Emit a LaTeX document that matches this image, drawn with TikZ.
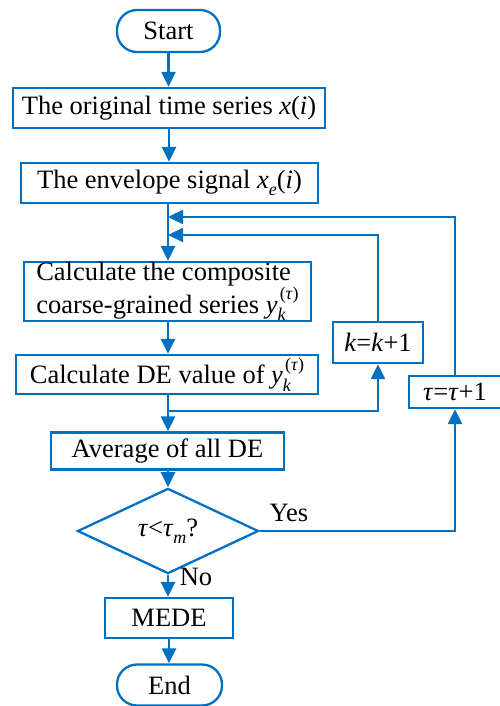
\documentclass[tikz,border=0pt]{standalone}
\usepackage{fontspec}
\setmainfont{Liberation Serif}
\usetikzlibrary{arrows.meta,shapes.geometric}
\definecolor{fb}{HTML}{0070C0}
\newcommand{\lo}[1]{\raisebox{-0.28em}{\fontsize{18}{18}\selectfont #1}}
\newcommand{\ytau}{\textit{y}\rlap{\lo{\textit{k}}}\raisebox{0.5em}{\fontsize{18}{18}\selectfont\hspace{0.12em}(\textit{τ})}}
\begin{document}
\begin{tikzpicture}[x=1pt,y=-1pt,
  box/.style={draw=fb, line width=2.3pt, inner sep=0pt, minimum height=40pt, text=black, font=\fontsize{26.5}{27}\selectfont},
  term/.style={box, rounded corners=20pt},
  lbl/.style={text=black, inner sep=0pt, font=\fontsize{26.5}{27}\selectfont},
  arr/.style={draw=fb, line width=2.3pt, -{Triangle[length=15pt,width=14pt]}},
  ln/.style={draw=fb, line width=2.3pt}]
\useasboundingbox (0,0) rectangle (500,706);
\node[term, minimum width=103pt, minimum height=42pt] (start) at (168.5,31) {Start};
\node[box, minimum width=312pt] (b1) at (169,108) {The original time series \textit{x}(\textit{i})};
\node[box, minimum width=297pt] (b2) at (169.5,183) {The envelope signal \textit{x}\lo{\textit{e}}(\textit{i})};
\node[box, minimum width=287pt, minimum height=59pt, align=left] (b3) at (167.5,291.5) {Calculate the composite\\coarse-grained series \ytau};
\node[box, minimum width=302pt, minimum height=39pt] (b4) at (167,374.5) {Calculate DE value of \ytau};
\node[box, minimum width=90pt, minimum height=41pt] (k) at (378,342.5) {\textit{k}=\textit{k}+1};
\node[box, minimum width=92pt, minimum height=32pt] (tau) at (455,392) {\textit{τ}=\textit{τ}+1};
\node[box, minimum width=233pt, minimum height=37pt] (b5) at (167.5,451) {Average of all DE};
\node[box, diamond, minimum width=181pt, minimum height=59pt] (dia) at (168,531) {\textit{τ}<\textit{τ}\lo{\textit{m}}?};
\node[box, minimum width=128pt, minimum height=40pt] (mede) at (169,618) {MEDE};
\node[term, minimum width=105pt, minimum height=41pt] (end) at (169.5,685) {End};
\node[lbl] (yes) at (289,513) {Yes};
\node[lbl] (no) at (196,577) {No};
\coordinate (j1) at (168,217);
\coordinate (j2) at (168,235);
\coordinate (j3) at (168,411);
\draw[arr] (start.south) -- (start.south |- b1.north);
\draw[arr] (b1.south) -- (b1.south |- b2.north);
\draw[arr] (b2.south -| j1) -- (b3.north -| j1);
\draw[arr] (tau.north) -- (tau.north |- j1) -- (j1);
\draw[arr] (k.north) -- (k.north |- j2) -- (j2);
\draw[arr] (b3.south -| j1) -- (b4.north -| j1);
\draw[ln] (b4.south -| j3) -- (j3);
\draw[arr] (j3) -| (k.south);
\draw[arr] (j3) -- (b5.north -| j3);
\draw[arr] (b5.south -| dia.north) -- (dia.north);
\draw[arr] (dia.east) -| (tau.south);
\draw[arr] (dia.south) -- (dia.south |- mede.north);
\draw[arr] (mede.south) -- (mede.south |- end.north);
\end{tikzpicture}
\end{document}
